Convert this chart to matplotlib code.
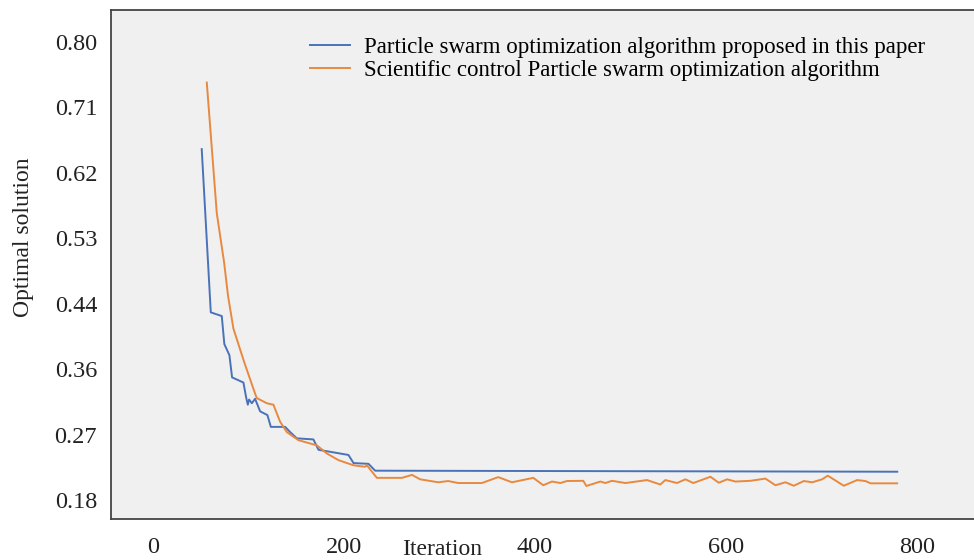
import numpy as np
import matplotlib
matplotlib.use("Agg")
import matplotlib.pyplot as plt

# values
blue_iter = [51, 60.5, 72, 74.7, 80, 82.8, 94.7, 97.5, 99.3, 100.6, 103.5, 106.9,
             112.2, 119.8, 123.4, 138.4, 143.6, 150.6, 168, 173.3, 204.7, 210,
             225.7, 232.7, 779.6]
blue_val = [0.655, 0.434, 0.429, 0.391, 0.376, 0.346, 0.339, 0.319, 0.309, 0.316,
            0.311, 0.317, 0.300, 0.295, 0.279, 0.279, 0.272, 0.2635, 0.262, 0.248,
            0.241, 0.230, 0.229, 0.2197, 0.2183]

orange_iter = [56.3, 66.8, 74.4, 78.6, 84.2, 95.4, 106.9, 108.7, 119.2, 126.1,
               133.1, 140.1, 152.3, 171.6, 182.1, 194.2, 210, 222.2, 224, 234.5,
               260.7, 271.2, 279.9, 298.7, 309.2, 319.7, 344.5, 361.6, 376, 398.3,
               408.8, 417.9, 426.6, 433.6, 450.7, 453.9, 468.6, 473.8, 480.8, 494.8,
               517.5, 531.4, 536.7, 548.9, 557.7, 566, 583.9, 592.6, 601.4, 610.1,
               625.8, 641.5, 652, 662.5, 671.2, 681.7, 690.5, 700.9, 706.8, 723.6,
               737.6, 746.3, 751.6, 779.5]
orange_val = [0.745, 0.568, 0.502, 0.456, 0.412, 0.367, 0.324, 0.318, 0.311, 0.309,
              0.286, 0.272, 0.261, 0.254, 0.243, 0.234, 0.227, 0.225, 0.227, 0.210,
              0.210, 0.214, 0.208, 0.204, 0.2057, 0.203, 0.203, 0.211, 0.204, 0.210,
              0.200, 0.205, 0.203, 0.2057, 0.206, 0.199, 0.205, 0.203, 0.206, 0.203,
              0.207, 0.201, 0.207, 0.203, 0.208, 0.203, 0.2115, 0.2034, 0.208, 0.205,
              0.206, 0.209, 0.200, 0.204, 0.1993, 0.2057, 0.204, 0.208, 0.213, 0.1993,
              0.207, 0.2057, 0.2026, 0.2026]

x_ticks = [0, 200, 400, 600, 800]
y_ticks = np.linspace(0.18, 0.80, 8)
y_labels = ["0.18", "0.27", "0.36", "0.44", "0.53", "0.62", "0.71", "0.80"]

labels = ["Particle swarm optimization algorithm proposed in this paper",
          "Scientific control Particle swarm optimization algorithm"]

plt.rcParams['font.family'] = ['Liberation Serif', 'DejaVu Serif']

fig = plt.figure(figsize=(9.74, 5.6), dpi=100)
ax = fig.add_axes([0.114, 0.0732, 0.886, 0.909])
ax.set_facecolor("#f0f0f0")

ax.plot(blue_iter, blue_val, color="#4a72b8", lw=1.4, label=labels[0])
ax.plot(orange_iter, orange_val, color="#e8893f", lw=1.4, label=labels[1])

ax.set_xlim(-44, 860)
ax.set_ylim(0.1543, 0.8433)
ax.set_xticks(x_ticks)
ax.set_yticks(y_ticks)
ax.set_yticklabels(y_labels)
ax.tick_params(axis="both", length=0, labelsize=17.5, colors="#222222")
ax.tick_params(axis="x", pad=13)
ax.tick_params(axis="y", pad=10)

for side in ["left", "top", "bottom"]:
    ax.spines[side].set_color("#444444")
    ax.spines[side].set_linewidth(1.3)
ax.spines["right"].set_visible(False)

fig.text(0.024, 0.577, "Optimal solution", rotation=90, ha="center", va="center",
         fontsize=17, color="#222222")
fig.text(0.454, 0.018, "Iteration", ha="center", va="center",
         fontsize=17, color="#222222")

ax.legend(loc="upper left", bbox_to_anchor=(0.22, 0.965), frameon=False,
          fontsize=16.5, handlelength=1.75, handletextpad=0.6, borderaxespad=0,
          labelspacing=0.1)

fig.savefig("out.png", dpi=100)
